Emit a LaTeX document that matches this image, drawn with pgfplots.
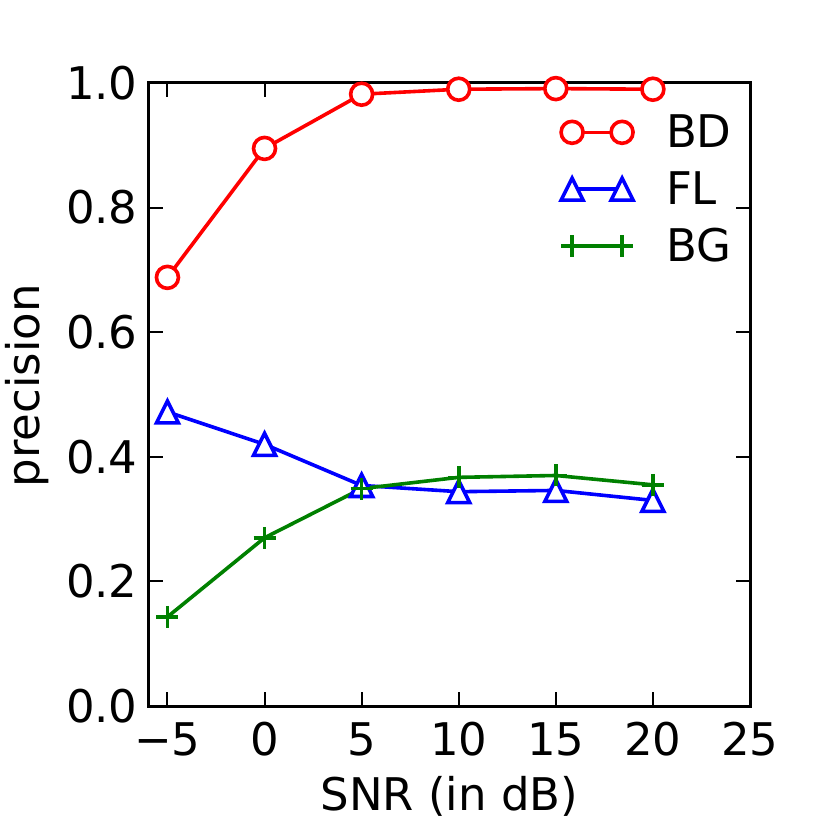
\documentclass[border=0pt]{standalone}
\usepackage{fontspec}
\setmainfont{DejaVu Sans}
\usepackage{pgfplots}
\pgfplotsset{compat=1.18}
\definecolor{mplgreen}{RGB}{0,128,0}
\pgfdeclareplotmark{mtri}{%
  \pgfpathmoveto{\pgfqpoint{0pt}{\pgfplotmarksize}}%
  \pgfpathlineto{\pgfqpoint{-\pgfplotmarksize}{-\pgfplotmarksize}}%
  \pgfpathlineto{\pgfqpoint{\pgfplotmarksize}{-\pgfplotmarksize}}%
  \pgfpathclose
  \pgfusepathqfillstroke}
\begin{document}
\begin{tikzpicture}[font=\fontsize{22.5}{27}\selectfont]
\useasboundingbox (-74.5pt,-62pt) rectangle (340.5pt,353pt);
\begin{axis}[
  at={(0,0)}, anchor=south west,
  scale only axis, width=300.5pt, height=311.5pt,
  xmin=-5.95, xmax=25, ymin=0, ymax=1,
  xtick={-5,0,5,10,15,20,25},
  xticklabels={−5,0,5,10,15,20,25},
  ytick={0,0.2,0.4,0.6,0.8,1},
  yticklabels={0.0,0.2,0.4,0.6,0.8,1.0},
  tick align=inside,
  major tick length=7pt,
  every tick/.style={black, line width=1pt},
  axis line style={line width=1.5pt},
  axis on top=true,
  clip=false,
  every tick label/.append style={inner sep=0pt, font=\fontsize{22.5}{27}\selectfont},
  x tick label style={yshift=-8pt},
  y tick label style={xshift=-5.5pt},
  xlabel={SNR (in dB)},
  ylabel={precision},
  xlabel style={at={(axis description cs:0.5,-0.167)}, anchor=base, inner sep=0pt, font=\fontsize{22.5}{27}\selectfont},
  ylabel style={at={(axis description cs:-0.183,0.514)}, anchor=base, inner sep=0pt, rotate=0, font=\fontsize{22.5}{27}\selectfont},
  legend style={draw=none, fill=none, at={(axis description cs:0.685,0.955)}, anchor=north west,
    font=\fontsize{22.5}{27}\selectfont, row sep=7.5pt, column sep=15pt, inner sep=0pt,
    nodes={inner sep=1.5pt}},
  legend cell align=left,
  legend image code/.code={%
    \draw[mark repeat=2, mark phase=1, #1] plot coordinates {(0pt,0pt) (12.5pt,0pt) (25pt,0pt)};},
]
\addplot[red, line width=1.8pt, mark=*, mark size=5.5pt, mark options={fill=white, draw=red, line width=1.8pt}]
  coordinates {(-5,0.688) (0,0.895) (5,0.982) (10,0.990) (15,0.991) (20,0.990)};
\addlegendentry{BD}
\addplot[blue, line width=1.8pt, mark=mtri, mark size=5.5pt, mark options={fill=white, draw=blue, line width=1.8pt}]
  coordinates {(-5,0.472) (0,0.420) (5,0.354) (10,0.344) (15,0.346) (20,0.330)};
\addlegendentry{FL}
\addplot[mplgreen, line width=1.8pt, mark=+, mark size=5.5pt, mark options={line width=1.8pt}]
  coordinates {(-5,0.143) (0,0.270) (5,0.349) (10,0.367) (15,0.370) (20,0.355)};
\addlegendentry{BG}
\end{axis}
\end{tikzpicture}
\end{document}
